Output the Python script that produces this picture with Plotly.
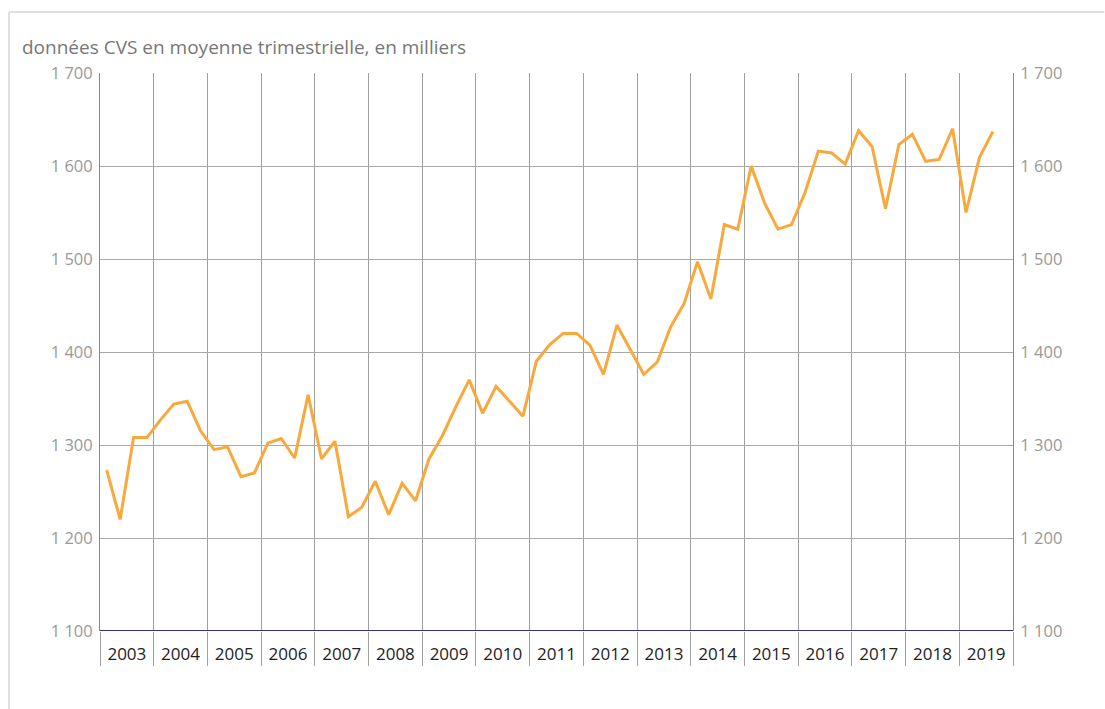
import plotly.graph_objects as go

years = list(range(2003, 2020))
values = [
    1273, 1220, 1308, 1308,   # 2003
    1327, 1344, 1347, 1315,   # 2004
    1295, 1298, 1266, 1270,   # 2005
    1302, 1307, 1286, 1354,   # 2006
    1285, 1304, 1223, 1233,   # 2007
    1261, 1225, 1259, 1240,   # 2008
    1285, 1310, 1341, 1370,   # 2009
    1334, 1363, 1347, 1331,   # 2010
    1390, 1408, 1420, 1420,   # 2011
    1407, 1376, 1429, 1403,   # 2012
    1376, 1389, 1427, 1452,   # 2013
    1497, 1457, 1537, 1532,   # 2014
    1600, 1560, 1532, 1537,   # 2015
    1571, 1616, 1614, 1602,   # 2016
    1638, 1621, 1554, 1623,   # 2017
    1634, 1605, 1607, 1640,   # 2018
    1550, 1609, 1637,         # 2019
]
y_ticks = [1100, 1200, 1300, 1400, 1500, 1600, 1700]
y_ticktext = ["1 100", "1 200", "1 300", "1 400", "1 500", "1 600", "1 700"]
title_text = "données CVS en moyenne trimestrielle, en milliers"

x_vals = [years[0] + (i + 0.5) / 4 for i in range(len(values))]

fig = go.Figure()
fig.add_trace(go.Scatter(
    x=x_vals, y=values, mode="lines",
    line=dict(color="#F9A83C", width=3),
    showlegend=False, hoverinfo="x+y",
))
fig.add_trace(go.Scatter(
    x=x_vals, y=values, mode="lines", yaxis="y2",
    line=dict(color="rgba(0,0,0,0)", width=0),
    showlegend=False, hoverinfo="skip",
))

font_family = "Open Sans, Noto Sans, sans-serif"

fig.update_layout(
    width=1105, height=709,
    margin=dict(l=100, r=92, t=73, b=78),
    paper_bgcolor="white", plot_bgcolor="white",
    font=dict(family=font_family),
    xaxis=dict(
        range=[2003, 2020],
        tickvals=[y + 0.5 for y in years],
        ticktext=[str(y) for y in years],
        ticks="", showgrid=False, zeroline=False,
        showline=False,
        tickfont=dict(size=17, color="#222222"),
        ticklabelstandoff=11,
        minor=dict(
            tick0=2003, dtick=1, showgrid=True,
            gridcolor="#A0A0A0", gridwidth=1,
            ticks="outside", ticklen=34, tickcolor="#A0A0A0", tickwidth=1,
        ),
    ),
    yaxis=dict(
        range=[1100, 1700],
        tickvals=y_ticks, ticktext=y_ticktext,
        showgrid=True, gridcolor="#A8A8A8", gridwidth=1,
        zeroline=False, showline=True, linecolor="#888888", linewidth=1,
        ticks="", ticklabelstandoff=3,
        tickfont=dict(size=16.5, color="#999999"),
    ),
    yaxis2=dict(
        range=[1100, 1700], overlaying="y", side="right",
        tickvals=y_ticks, ticktext=y_ticktext,
        showgrid=False, zeroline=False,
        showline=True, linecolor="#888888", linewidth=1,
        ticks="", ticklabelstandoff=3,
        tickfont=dict(size=16.5, color="#999999"),
    ),
    shapes=[
        dict(type="line", xref="paper", yref="y", x0=0, x1=1, y0=1100, y1=1100,
             line=dict(color="#333388", width=2)),
        dict(type="line", xref="paper", yref="paper",
             x0=-0.0997, x1=1.1, y0=1.1093, y1=1.1093,
             line=dict(color="#E0E0E0", width=2)),
        dict(type="line", xref="paper", yref="paper",
             x0=-0.0997, x1=-0.0997, y0=1.1093, y1=-0.2,
             line=dict(color="#E0E0E0", width=2)),
    ],
    annotations=[
        dict(text=title_text, xref="paper", yref="paper",
             x=-0.0876, y=1.0466, xanchor="left", yanchor="middle",
             showarrow=False, font=dict(size=19, color="#777777")),
    ],
)

fig.write_html("out.html", config={"displayModeBar": False},
               post_script="document.body.style.margin='0';document.body.style.overflow='hidden';")
